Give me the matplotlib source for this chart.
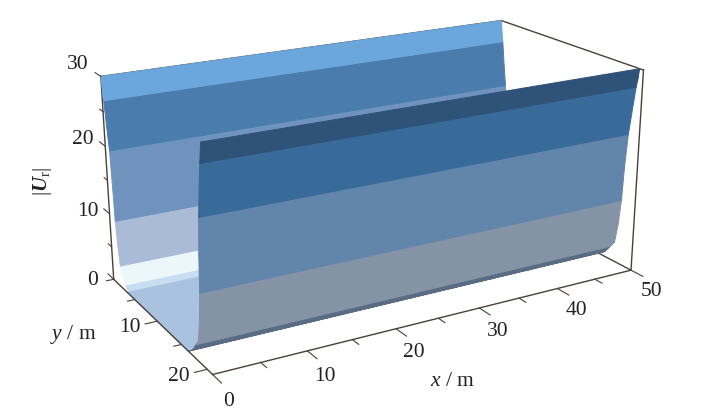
import matplotlib

matplotlib.use("Agg")

import matplotlib.pyplot as plt
import numpy as np
from mpl_toolkits.mplot3d import proj3d

plt.rcParams["font.family"] = ["Liberation Serif"]
plt.rcParams["mathtext.fontset"] = "custom"
plt.rcParams["mathtext.rm"] = "Liberation Serif"
plt.rcParams["mathtext.it"] = "Liberation Serif:italic"
plt.rcParams["mathtext.bf"] = "Liberation Serif:bold"
plt.rcParams["mathtext.bfit"] = "Liberation Serif:italic:bold"

# values
x_stations = [0, 5, 10, 15, 20, 25, 30, 35, 40, 45, 50]
channel_width = 21
back_dist = [0.0, 0.13, 0.34, 0.67, 1.0, 1.22, 1.34, 1.6, 1.93, 2.35, 3.0, 3.6, 4.6, 5.2]
back_speed = [30.0, 28.5, 26.7, 23.0, 19.8, 14.0, 9.6, 6.0, 3.2, 2.0, 0.8, 0.25, 0.0, 0.0]
front_dist = [0.5, 0.62, 0.8, 1.1, 1.45, 1.7, 1.85, 2.1, 2.45, 3.0, 3.7, 4.6, 5.2]
front_speed = [30.0, 28.6, 27.2, 24.0, 20.0, 15.0, 9.8, 6.0, 3.0, 2.0, 0.8, 0.0, 0.0]

back_edges_z = [0.25, 0.8, 3.2, 9.6, 19.8, 26.7]
back_colors = ["#a9c2e0", "#c6ddf2", "#ecf7fb", "#aabbd8", "#7093be", "#4a7dad", "#6ba7dc"]
front_edges_z = [0.1, 2.0, 9.8, 20.0, 27.2]
front_colors = ["#a9c2e0", "#5a6c84", "#8593a6", "#6285ac", "#386b9a", "#2f5278"]

x_ticks = [0, 5, 10, 15, 20, 25, 30, 35, 40, 45, 50]
x_labels = ["0", "", "10", "", "20", "", "30", "", "40", "", "50"]
y_ticks = [0, 5, 10, 15, 20]
y_labels = ["", "", "10", "", "20"]
z_ticks = [0, 5, 10, 15, 20, 25, 30]
z_labels = ["0", "", "10", "", "20", "", "30"]

# where the box corners sit in the picture, used to place the axes
corner_data = np.array([(0, 0, 0), (0, 0, 30), (50, 0, 30), (50, 21, 30), (50, 21, 0), (0, 21, 0)], float)
corner_px = np.array([(113, 279), (101, 76), (502, 21), (643, 70), (631, 270), (213, 375)], float)

INK = "#4a4038"
TEXT = "#222222"

y_prof = np.array(back_dist + [channel_width - d for d in front_dist[::-1]])
z_prof = np.array(back_speed + front_speed[::-1])
X, Y = np.meshgrid(x_stations, y_prof)
Z = np.tile(z_prof[:, None], (1, len(x_stations)))

# one colour per face, by speed band and by wall
n_y = len(y_prof) - 1
n_x = len(x_stations) - 1
face_rgba = np.zeros((n_y + 1, n_x + 1, 4))
for i in range(n_y):
    mid_z = (z_prof[i] + z_prof[i + 1]) / 2
    if (y_prof[i] + y_prof[i + 1]) / 2 < channel_width / 2:
        colour = back_colors[int(np.searchsorted(back_edges_z, mid_z))]
    else:
        colour = front_colors[int(np.searchsorted(front_edges_z, mid_z))]
    face_rgba[i, :] = matplotlib.colors.to_rgba(colour)

fig = plt.figure(figsize=(7.14, 4.08), dpi=100)
# square axes wider than the figure is tall, 3d axes force a square box
ax = fig.add_axes([0.0, -0.375, 1.0, 1.75], projection="3d", computed_zorder=False)
ax.set_proj_type("persp", focal_length=0.381)
ax.view_init(elev=19.25, azim=-120.05)
ax.set_box_aspect((1.923, 1, 0.872), zoom=0.777)
ax.set_xlim(0, 50)
ax.set_ylim(channel_width, 0)
ax.set_zlim(0, 30)
ax.set_xticks([])
ax.set_yticks([])
ax.set_zticks([])
ax.set_axis_off()
fig.canvas.draw()

px, py, _ = proj3d.proj_transform(corner_data[:, 0], corner_data[:, 1], corner_data[:, 2], ax.get_proj())
pts = ax.transData.transform(np.c_[px, py])
pts[:, 1] = 408 - pts[:, 1]
dx, dy = (corner_px - pts).mean(axis=0)
ax.set_position([dx / 714, -0.375 - dy / 408, 1.0, 1.75])

# box edges, the first group behind the surface
back_edges = [
    ((0, 50), (0, 0), (30, 30)),
    ((50, 50), (0, channel_width), (30, 30)),
    ((0, 0), (0, 0), (0, 30)),
    ((50, 50), (0, channel_width), (0, 0)),
]
front_edges = [
    ((50, 50), (channel_width, channel_width), (0, 30)),
    ((0, 50), (channel_width, channel_width), (0, 0)),
    ((0, 0), (0, channel_width), (0, 0)),
]
for ex, ey, ez in back_edges:
    ax.plot(ex, ey, ez, color=INK, lw=1.0, zorder=1)
for ex, ey, ez in front_edges:
    ax.plot(ex, ey, ez, color=INK, lw=1.0, zorder=3)

ax.plot_surface(X, Y, Z, facecolors=face_rgba, rstride=1, cstride=1, shade=False,
                linewidth=0.7, antialiased=True, zorder=2)

for t, lab in zip(x_ticks, x_labels):
    ln = 1.6 if lab else 1.0
    ax.plot((t, t), (channel_width, channel_width + ln), (0, 0), color=INK, lw=0.8, zorder=3)
    if lab:
        ax.text(t, channel_width + 2.8, -1.6, lab, fontsize=15.5, color=TEXT,
                ha="center", va="center", zorder=4)
for t, lab in zip(y_ticks, y_labels):
    ln = 1.3 if lab else 0.8
    ax.plot((0, -ln), (t, t), (0, 0), color=INK, lw=0.8, zorder=3)
    if lab:
        ax.text(-2.9, t, 0, lab, fontsize=15.5, color=TEXT,
                ha="center", va="center", zorder=4)
for t, lab in zip(z_ticks, z_labels):
    ln = 1.4 if lab else 0.8
    ax.plot((0, 0), (0, -ln), (t, t), color=INK, lw=0.8, zorder=3)
    if lab:
        ax.text(0, -5.8, t - 3.8 + 0.11 * t, lab, fontsize=15.5, color=TEXT,
                ha="center", va="center", zorder=4)

fig.text(42 / 714, 1 - 181 / 408, r"$|\mathbfit{U}_{\mathrm{r}}|$", rotation=90, fontsize=15,
         ha="center", va="center", color=TEXT)
fig.text(73 / 714, 1 - 334 / 408, r"$\mathit{y}$ / m", fontsize=15.5, ha="center", va="center",
         color=TEXT)
fig.text(452 / 714, 1 - 381 / 408, r"$\mathit{x}$ / m", fontsize=15.5, ha="center", va="center",
         color=TEXT)

fig.savefig("out.png", dpi=100)
